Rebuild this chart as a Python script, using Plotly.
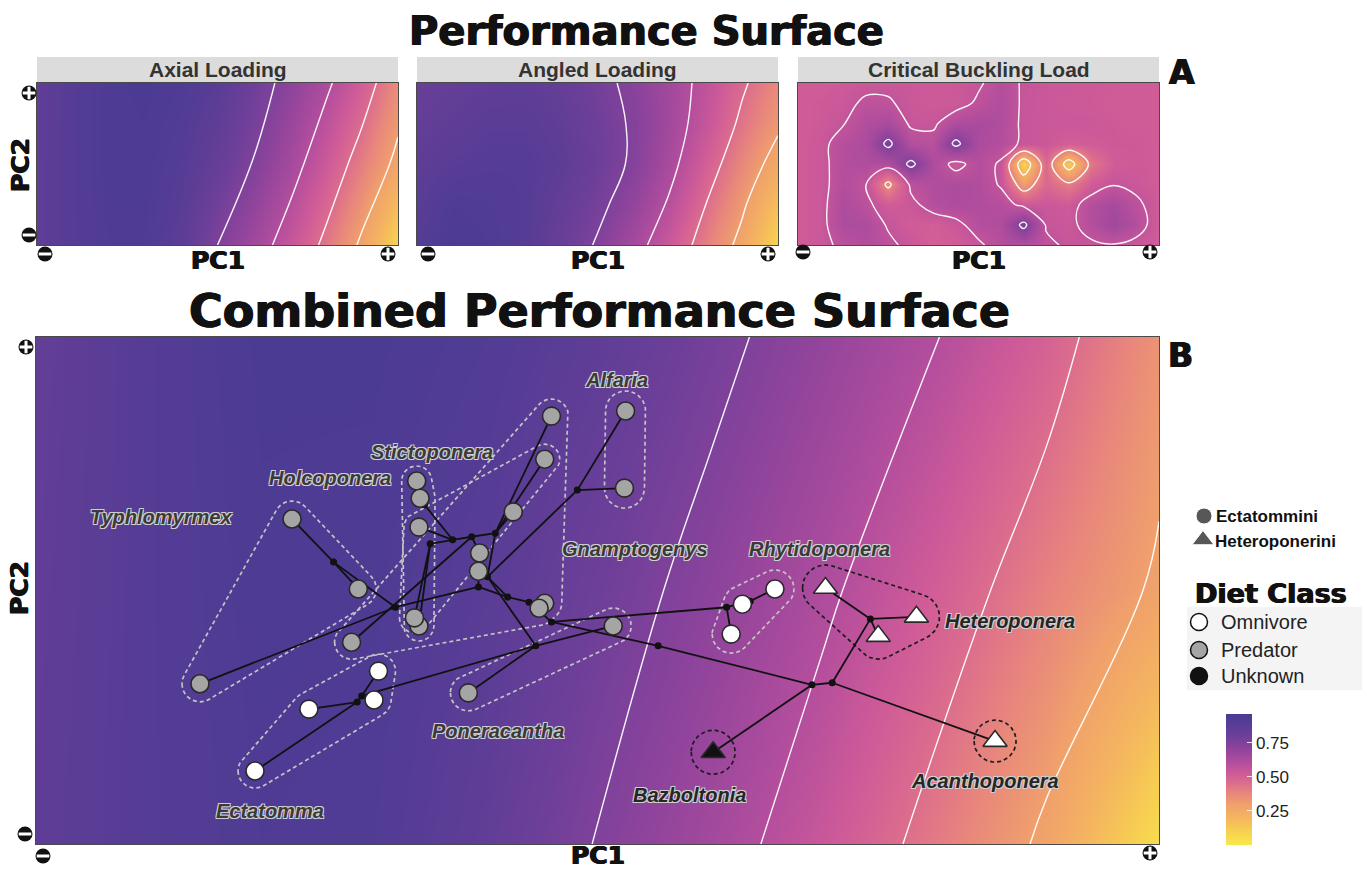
import math
import plotly.graph_objects as go

W, H = 1367, 875

# ---------------------------------------------------------------- surfaces
GRID_X = [0.0, 0.1, 0.2, 0.3, 0.4, 0.5, 0.6, 0.7, 0.8, 0.9, 1.0]

AXIAL_Y = [0.0, 0.5, 1.0]
AXIAL_Z = [
    [0.86, 0.90, 0.93, 0.93, 0.87, 0.75, 0.655, 0.55, 0.425, 0.28, 0.08],
    [0.86, 0.90, 0.94, 0.94, 0.90, 0.83, 0.745, 0.645, 0.53, 0.40, 0.27],
    [0.85, 0.90, 0.94, 0.95, 0.93, 0.88, 0.80, 0.715, 0.62, 0.51, 0.36],
]

ANGLED_Y = [0.0, 0.25, 0.5, 0.75, 1.0]
ANGLED_Z = [
    [0.90, 0.95, 0.93, 0.90, 0.82, 0.739, 0.643, 0.531, 0.40, 0.266, 0.08],
    [0.88, 0.93, 0.92, 0.90, 0.839, 0.777, 0.693, 0.586, 0.45, 0.32, 0.16],
    [0.86, 0.887, 0.90, 0.90, 0.868, 0.804, 0.734, 0.631, 0.505, 0.375, 0.25],
    [0.84, 0.86, 0.88, 0.88, 0.852, 0.797, 0.737, 0.651, 0.55, 0.429, 0.321],
    [0.82, 0.836, 0.852, 0.86, 0.834, 0.782, 0.723, 0.65, 0.569, 0.467, 0.369],
]

BUCKLING_X = [0.0, 0.0625, 0.125, 0.1875, 0.25, 0.3125, 0.375, 0.4375, 0.5,
              0.5625, 0.625, 0.6875, 0.75, 0.8125, 0.875, 0.9375, 1.0]
BUCKLING_Y_TOP_DOWN = [1.0, 0.875, 0.75, 0.625, 0.5, 0.375, 0.25, 0.125, 0.0]
BUCKLING_Z_TOP_DOWN = [
    [0.515, 0.515, 0.525, 0.535, 0.54, 0.535, 0.525, 0.535, 0.548, 0.60, 0.55, 0.535, 0.535, 0.525, 0.525, 0.515, 0.515],
    [0.515, 0.525, 0.535, 0.575, 0.57, 0.535, 0.525, 0.525, 0.575, 0.61, 0.548, 0.535, 0.525, 0.525, 0.515, 0.515, 0.515],
    [0.515, 0.525, 0.555, 0.61, 0.63, 0.548, 0.545, 0.62, 0.63, 0.61, 0.545, 0.535, 0.535, 0.535, 0.525, 0.515, 0.515],
    [0.515, 0.535, 0.60, 0.62, 0.77, 0.60, 0.59, 0.77, 0.62, 0.60, 0.545, 0.535, 0.505, 0.515, 0.525, 0.525, 0.515],
    [0.515, 0.535, 0.60, 0.61, 0.61, 0.77, 0.62, 0.53, 0.60, 0.548, 0.08, 0.47, 0.12, 0.42, 0.515, 0.525, 0.515],
    [0.515, 0.535, 0.60, 0.565, 0.35, 0.58, 0.61, 0.62, 0.61, 0.55, 0.30, 0.47, 0.40, 0.515, 0.555, 0.535, 0.515],
    [0.515, 0.535, 0.62, 0.58, 0.515, 0.535, 0.60, 0.62, 0.61, 0.60, 0.535, 0.535, 0.525, 0.60, 0.64, 0.58, 0.515],
    [0.515, 0.535, 0.62, 0.62, 0.55, 0.515, 0.505, 0.535, 0.60, 0.61, 0.77, 0.55, 0.535, 0.60, 0.66, 0.60, 0.515],
    [0.515, 0.535, 0.58, 0.61, 0.58, 0.535, 0.505, 0.515, 0.545, 0.60, 0.61, 0.58, 0.545, 0.545, 0.555, 0.535, 0.515],
]

COMBINED_Y = [0.0, 0.5, 1.0]
COMBINED_Z = [
    [0.86, 0.90, 0.93, 0.92, 0.85, 0.745, 0.65, 0.54, 0.415, 0.28, 0.05],
    [0.85, 0.90, 0.94, 0.935, 0.885, 0.80, 0.715, 0.62, 0.51, 0.39, 0.285],
    [0.84, 0.90, 0.95, 0.95, 0.92, 0.86, 0.78, 0.695, 0.605, 0.495, 0.34],
]

PANEL_TITLES = ["Axial Loading", "Angled Loading", "Critical Buckling Load"]
COLORBAR_TICKS = [0.25, 0.50, 0.75]

# colour scale (value -> colour)
CS_VALUES = [0.0, 0.1, 0.2, 0.3, 0.38, 0.45, 0.52, 0.6, 0.7, 0.8, 0.9, 0.96]
CS_COLORS = ['#f9e84a', '#f7d050', '#f4b55f', '#f0a06c', '#e8867c', '#dc6e8c',
             '#cf5b98', '#b44e9d', '#91449c', '#6d3f99', '#553c95', '#4a3b93']
ZMIN, ZMAX = 0.0, 0.96

# ---------------------------------------------------------------- phylomorphospace
TIP_NAMES = ["Typ1", "Typ2", "Typ3", "Hol1", "Hol2", "Hol3", "Sti1", "Sti2", "Sti3",
             "Gna1", "Gna2", "Gna3", "Gna4", "Gna5", "Gna6", "Gna7", "Alf1", "Alf2",
             "Pon1", "Pon2", "Ect1", "Ect2", "Ect3", "Ect4", "Rhy1", "Rhy2", "Rhy3",
             "Het1", "Het2", "Het3", "Aca1", "Baz1"]
TIP_GENUS = (["Typhlomyrmex"] * 3 + ["Holcoponera"] * 3 + ["Stictoponera"] * 3 +
             ["Gnamptogenys"] * 7 + ["Alfaria"] * 2 + ["Poneracantha"] * 2 +
             ["Ectatomma"] * 4 + ["Rhytidoponera"] * 3 + ["Heteroponera"] * 3 +
             ["Acanthoponera", "Bazboltonia"])
TIP_PC1 = [0.228, 0.287, 0.146, 0.339, 0.342, 0.341, 0.453, 0.341, 0.337,
           0.459, 0.425, 0.395, 0.394, 0.453, 0.448, 0.281, 0.525, 0.524,
           0.385, 0.514, 0.305, 0.301, 0.243, 0.195, 0.658, 0.629, 0.619,
           0.703, 0.784, 0.750, 0.854, 0.603]
TIP_PC2 = [0.641, 0.503, 0.316, 0.716, 0.682, 0.430, 0.759, 0.625, 0.446,
           0.844, 0.655, 0.574, 0.538, 0.475, 0.465, 0.398, 0.854, 0.702,
           0.298, 0.430, 0.341, 0.284, 0.266, 0.144, 0.503, 0.473, 0.414,
           0.505, 0.448, 0.410, 0.203, 0.181]

GENUS_TRIBE = {"Typhlomyrmex": "Ectatommini", "Holcoponera": "Ectatommini",
               "Stictoponera": "Ectatommini", "Gnamptogenys": "Ectatommini",
               "Alfaria": "Ectatommini", "Poneracantha": "Ectatommini",
               "Ectatomma": "Ectatommini", "Rhytidoponera": "Ectatommini",
               "Heteroponera": "Heteroponerini", "Acanthoponera": "Heteroponerini",
               "Bazboltonia": "Heteroponerini"}
GENUS_DIET = {"Typhlomyrmex": "Predator", "Holcoponera": "Predator",
              "Stictoponera": "Predator", "Gnamptogenys": "Predator",
              "Alfaria": "Predator", "Poneracantha": "Predator",
              "Ectatomma": "Omnivore", "Rhytidoponera": "Omnivore",
              "Heteroponera": "Omnivore", "Acanthoponera": "Omnivore",
              "Bazboltonia": "Unknown"}

NODE_NAMES = ["R", "HP", "HA", "HH", "K", "RN1", "RN2", "J", "I", "G", "M", "TN1",
              "H", "E", "L", "EC1", "EC2", "D", "C", "B", "A", "Hn"]
NODE_PC1 = [0.554, 0.691, 0.709, 0.743, 0.459, 0.615, 0.636, 0.439, 0.420, 0.394, 0.320,
            0.265, 0.402, 0.482, 0.445, 0.290, 0.286, 0.409, 0.388, 0.371, 0.351, 0.346]
NODE_PC2 = [0.391, 0.314, 0.318, 0.444, 0.438, 0.467, 0.479, 0.477, 0.487, 0.507, 0.467,
            0.556, 0.527, 0.698, 0.391, 0.292, 0.280, 0.613, 0.606, 0.600, 0.592, 0.669]

EDGE_PARENT = ["R", "R", "HP", "HP", "HA", "HA", "HH", "HH", "HH", "K", "K", "RN1", "RN1",
               "RN2", "RN2", "J", "J", "J", "I", "I", "G", "G", "M", "M", "TN1", "TN1",
               "H", "H", "H", "E", "E", "L", "L", "L", "EC1", "EC1", "EC1", "EC2", "EC2",
               "D", "D", "D", "D", "C", "C", "C", "B", "B", "B", "A", "A", "Hn", "Hn"]
EDGE_CHILD = ["HP", "K", "Baz1", "HA", "Aca1", "HH", "Het1", "Het2", "Het3", "RN1", "J",
              "Rhy3", "RN2", "Rhy2", "Rhy1", "Gna5", "Gna6", "I", "G", "H", "Gna4", "M",
              "Typ3", "TN1", "Typ1", "Typ2", "E", "L", "D", "Alf1", "Alf2", "Pon1", "Pon2",
              "EC1", "Ect1", "Ect2", "EC2", "Ect3", "Ect4", "Gna2", "Gna1", "Sti1", "C",
              "Gna7", "Gna3", "B", "A", "Hn", "Sti2", "Sti3", "Hol3", "Hol1", "Hol2"]

# genus label anchor positions (layout)
LABEL_POS = {"Typhlomyrmex": (0.111, 0.645), "Holcoponera": (0.262, 0.722),
             "Stictoponera": (0.353, 0.773), "Alfaria": (0.517, 0.915),
             "Gnamptogenys": (0.533, 0.582), "Rhytidoponera": (0.698, 0.582),
             "Heteroponera": (0.867, 0.440), "Poneracantha": (0.411, 0.223),
             "Ectatomma": (0.208, 0.065), "Bazboltonia": (0.582, 0.097),
             "Acanthoponera": (0.845, 0.124)}
HULL_RADIUS = {"Typhlomyrmex": 18, "Holcoponera": 15, "Stictoponera": 15,
               "Gnamptogenys": 17, "Alfaria": 20, "Poneracantha": 18, "Ectatomma": 17,
               "Rhytidoponera": 19, "Heteroponera": 23, "Acanthoponera": 21,
               "Bazboltonia": 22}

# ---------------------------------------------------------------- layout helpers
FONT_HEAVY = "'DejaVu Sans', sans-serif"
HEAVY_SHADOW = "0.7px 0 0 #111, -0.7px 0 0 #111"
FONT_TXT = "'Liberation Sans', Arial, sans-serif"

A_DOMS_PX = [(37, 398), (417, 778), (798, 1159)]
A_Y_PX = (83, 245)
B_X_PX = (36, 1159)
B_Y_PX = (337, 844)


def px_x(px):
    return px / W


def px_y(py):
    return 1 - py / H


COLORSCALE = [[(v - ZMIN) / (ZMAX - ZMIN), c] for v, c in zip(CS_VALUES, CS_COLORS)]

fig = go.Figure()


def add_surface(xs, ys, z, xa, ya, start, end, size, showscale=False):
    hm = dict(x=xs, y=ys, z=z, zsmooth='best', colorscale=COLORSCALE, zmin=ZMIN, zmax=ZMAX,
              xaxis=xa, yaxis=ya, hoverinfo='skip', showscale=showscale)
    if showscale:
        hm['colorbar'] = dict(
            x=px_x(1226), xanchor='left', y=px_y(714), yanchor='top',
            len=131 / H, lenmode='fraction', thickness=26, thicknessmode='pixels',
            xpad=0, ypad=0, outlinewidth=0,
            tickvals=COLORBAR_TICKS, ticktext=['%.2f' % t for t in COLORBAR_TICKS],
            ticks='inside', ticklen=5, tickcolor='rgba(255,255,255,0.8)', tickwidth=1,
            tickfont=dict(family=FONT_TXT, size=17, color='#222'))
    fig.add_trace(go.Heatmap(**hm))
    fig.add_trace(go.Contour(
        x=xs, y=ys, z=z, xaxis=xa, yaxis=ya, showscale=False, hoverinfo='skip',
        contours=dict(coloring='none', start=start, end=end, size=size),
        line=dict(color='rgba(255,255,255,0.95)', width=1.4, smoothing=1.1)))


add_surface(GRID_X, AXIAL_Y, AXIAL_Z, 'x', 'y', 0.3, 0.75, 0.15)
add_surface(GRID_X, ANGLED_Y, ANGLED_Z, 'x2', 'y2', 0.3, 0.75, 0.15)
add_surface(BUCKLING_X, BUCKLING_Y_TOP_DOWN[::-1], BUCKLING_Z_TOP_DOWN[::-1],
            'x3', 'y3', 0.2, 0.74, 0.18)
add_surface(GRID_X, COMBINED_Y, COMBINED_Z, 'x4', 'y4', 0.3, 0.75, 0.15, showscale=True)

# ---------------------------------------------------------------- hulls
SX = B_X_PX[1] - B_X_PX[0]
SY = B_Y_PX[1] - B_Y_PX[0]


def rounded_hull(xs, ys, r):
    pts = set()
    for x, y in zip(xs, ys):
        cx, cy = x * SX, y * SY
        for k in range(48):
            a = 2 * math.pi * k / 48
            pts.add((round(cx + r * math.cos(a), 3), round(cy + r * math.sin(a), 3)))
    pts = sorted(pts)

    def cross(o, a, b):
        return (a[0] - o[0]) * (b[1] - o[1]) - (a[1] - o[1]) * (b[0] - o[0])

    lower, upper = [], []
    for p in pts:
        while len(lower) >= 2 and cross(lower[-2], lower[-1], p) <= 0:
            lower.pop()
        lower.append(p)
    for p in reversed(pts):
        while len(upper) >= 2 and cross(upper[-2], upper[-1], p) <= 0:
            upper.pop()
        upper.append(p)
    hull = lower[:-1] + upper[:-1]
    hull.append(hull[0])
    return [p[0] / SX for p in hull], [p[1] / SY for p in hull]


for genus in LABEL_POS:
    gx = [x for x, g in zip(TIP_PC1, TIP_GENUS) if g == genus]
    gy = [y for y, g in zip(TIP_PC2, TIP_GENUS) if g == genus]
    hx, hy = rounded_hull(gx, gy, HULL_RADIUS[genus])
    col = '#1c1c1c' if GENUS_TRIBE[genus] == 'Heteroponerini' else '#c4c4c4'
    fig.add_trace(go.Scatter(x=hx, y=hy, mode='lines', xaxis='x4', yaxis='y4',
                             line=dict(color=col, width=1.7, dash='4px,3px'),
                             hoverinfo='skip', showlegend=False))

# ---------------------------------------------------------------- tree edges
coords = {n: (x, y) for n, x, y in zip(TIP_NAMES, TIP_PC1, TIP_PC2)}
coords.update({n: (x, y) for n, x, y in zip(NODE_NAMES, NODE_PC1, NODE_PC2)})
ex, ey = [], []
for p, c in zip(EDGE_PARENT, EDGE_CHILD):
    ex += [coords[p][0], coords[c][0], None]
    ey += [coords[p][1], coords[c][1], None]
fig.add_trace(go.Scatter(x=ex, y=ey, mode='lines', xaxis='x4', yaxis='y4',
                         line=dict(color='#111', width=1.8), hoverinfo='skip',
                         showlegend=False))
fig.add_trace(go.Scatter(x=NODE_PC1, y=NODE_PC2, mode='markers', xaxis='x4', yaxis='y4',
                         marker=dict(color='#111', size=7), hoverinfo='skip',
                         showlegend=False))

DIET_COLOR = {"Omnivore": "#ffffff", "Predator": "#a5a5a5", "Unknown": "#111111"}
TRIBE_SYMBOL = {"Ectatommini": "circle", "Heteroponerini": "triangle-up"}
for tribe in ["Ectatommini", "Heteroponerini"]:
    for diet in ["Predator", "Omnivore", "Unknown"]:
        sel = [i for i, g in enumerate(TIP_GENUS)
               if GENUS_TRIBE[g] == tribe and GENUS_DIET[g] == diet]
        if not sel:
            continue
        fig.add_trace(go.Scatter(
            x=[TIP_PC1[i] for i in sel], y=[TIP_PC2[i] for i in sel], mode='markers',
            xaxis='x4', yaxis='y4', text=[TIP_GENUS[i] for i in sel],
            marker=dict(symbol=TRIBE_SYMBOL[tribe], color=DIET_COLOR[diet],
                        size=18 if tribe == 'Ectatommini' else 21,
                        line=dict(color='#2a2a2a', width=1.6)),
            showlegend=False, hoverinfo='text'))

# ---------------------------------------------------------------- overlay (legend, icons)
ICONS = [(29, 93, '+'), (29, 235, '-'), (45, 254, '-'), (388, 254, '+'),
         (428, 254, '-'), (768, 254, '+'), (803, 252, '-'), (1150, 252, '+'),
         (26, 347, '+'), (25, 834, '-'), (43, 856, '-'), (1150, 853, '+')]
fig.add_trace(go.Scatter(x=[i[0] for i in ICONS], y=[i[1] for i in ICONS], mode='markers',
                         xaxis='x5', yaxis='y5', hoverinfo='skip', showlegend=False,
                         marker=dict(color='#111', size=15, symbol='circle')))
for sign, sym in [('-', 'line-ew'), ('+', 'cross-thin')]:
    sel = [i for i in ICONS if i[2] == sign]
    fig.add_trace(go.Scatter(x=[i[0] for i in sel], y=[i[1] for i in sel], mode='markers',
                             xaxis='x5', yaxis='y5', hoverinfo='skip', showlegend=False,
                             marker=dict(symbol=sym, size=9,
                                         line=dict(color='white', width=3))))

LEGEND_TRIBE = [("Ectatommini", "circle", 1204, 516), ("Heteroponerini", "triangle-up", 1203, 540)]
LEGEND_DIET = [("Omnivore", 1199, 622), ("Predator", 1199, 650), ("Unknown", 1199, 676)]
fig.add_trace(go.Scatter(x=[l[2] for l in LEGEND_TRIBE], y=[l[3] for l in LEGEND_TRIBE],
                         mode='markers', xaxis='x5', yaxis='y5', hoverinfo='skip',
                         showlegend=False,
                         marker=dict(symbol=[l[1] for l in LEGEND_TRIBE], color='#111',
                                     size=[16, 19])))
fig.add_trace(go.Scatter(x=[l[1] for l in LEGEND_DIET], y=[l[2] for l in LEGEND_DIET],
                         mode='markers', xaxis='x5', yaxis='y5', hoverinfo='skip',
                         showlegend=False,
                         marker=dict(symbol='circle', size=17,
                                     color=[DIET_COLOR[l[0]] for l in LEGEND_DIET],
                                     line=dict(color='#111', width=1.5))))

# ---------------------------------------------------------------- annotations
anns = []


def ann(text, px, py, size, family=FONT_HEAVY, weight='bold', color='#111',
        xanchor='center', angle=0, style='normal', shadow=HEAVY_SHADOW):
    anns.append(dict(text=text, x=px_x(px), y=px_y(py), xref='paper', yref='paper',
                     showarrow=False, xanchor=xanchor, yanchor='middle', textangle=angle,
                     font=dict(family=family, size=size, color=color, weight=weight,
                               style=style, shadow=shadow)))


ann("Performance Surface", 646, 31, 40)
ann("Combined Performance Surface", 599, 311, 46)
for (x0, x1), t in zip(A_DOMS_PX, PANEL_TITLES):
    ann(t, (x0 + x1) / 2, 70, 21, family=FONT_TXT, color='#333', shadow='none')
    ann("PC1", (x0 + x1) / 2, 260, 25)
ann("PC2", 20, 165, 25, angle=-90)
ann("PC1", 598, 855, 25)
ann("PC2", 19, 588, 25, angle=-90)
ann("A", 1182, 72, 33)
ann("B", 1180, 356, 33)

ann("Ectatommini", 1214, 516, 17, family=FONT_TXT, xanchor='left', shadow='none')
ann("Heteroponerini", 1213, 541, 17, family=FONT_TXT, xanchor='left', shadow='none')
ann("Diet Class", 1193, 593, 27, xanchor='left')
for name, x, y in LEGEND_DIET:
    ann(name, 1219, y, 20, family=FONT_TXT, weight='normal', color='#222',
        xanchor='left', shadow='none')

HALO = "-1px -1px 0 #cfcfcf, 1px -1px 0 #cfcfcf, -1px 1px 0 #cfcfcf, 1px 1px 0 #cfcfcf"
for genus, (lx, ly) in LABEL_POS.items():
    col = '#262626' if GENUS_TRIBE[genus] == 'Heteroponerini' else '#3a3a3a'
    anns.append(dict(text=genus, x=lx, y=ly, xref='x4', yref='y4', showarrow=False,
                     font=dict(family=FONT_TXT, size=20, color=col, weight='bold',
                               style='italic', shadow=HALO)))

# ---------------------------------------------------------------- shapes
shapes = []
for x0, x1 in A_DOMS_PX:
    shapes.append(dict(type='rect', xref='paper', yref='paper', x0=px_x(x0), x1=px_x(x1),
                       y0=px_y(83), y1=px_y(57), fillcolor='#dcdcdc', line=dict(width=0),
                       layer='below'))
shapes.append(dict(type='rect', xref='paper', yref='paper', x0=px_x(1187), x1=px_x(1362),
                   y0=px_y(690), y1=px_y(607), fillcolor='#f4f4f4', line=dict(width=0),
                   layer='below'))


def axis(dom_px, rng, anchor, horiz=True):
    if horiz:
        d = [px_x(dom_px[0]), px_x(dom_px[1])]
    else:
        d = [px_y(dom_px[1]), px_y(dom_px[0])]
    return dict(domain=d, range=rng, anchor=anchor, showgrid=False, zeroline=False,
                showticklabels=False, ticks='', showline=True, mirror=True,
                linecolor='#4a4a4a', linewidth=1, fixedrange=True)


layout = dict(
    width=W, height=H, margin=dict(l=0, r=0, t=0, b=0),
    paper_bgcolor='white', plot_bgcolor='rgba(0,0,0,0)', showlegend=False,
    annotations=anns, shapes=shapes,
    xaxis=axis(A_DOMS_PX[0], [0, 1], 'y'), yaxis=axis(A_Y_PX, [0, 1], 'x', False),
    xaxis2=axis(A_DOMS_PX[1], [0, 1], 'y2'), yaxis2=axis(A_Y_PX, [0, 1], 'x2', False),
    xaxis3=axis(A_DOMS_PX[2], [0, 1], 'y3'), yaxis3=axis(A_Y_PX, [0, 1], 'x3', False),
    xaxis4=axis(B_X_PX, [0, 1], 'y4'), yaxis4=axis(B_Y_PX, [0, 1], 'x4', False),
    xaxis5=dict(domain=[0, 1], range=[0, W], anchor='y5', visible=False, fixedrange=True),
    yaxis5=dict(domain=[0, 1], range=[H, 0], anchor='x5', visible=False, fixedrange=True),
)
fig.update_layout(**layout)
fig.write_html("out.html", config={'displayModeBar': False},
               post_script="document.body.style.margin='0';"
                           "document.body.style.overflow='hidden';")
